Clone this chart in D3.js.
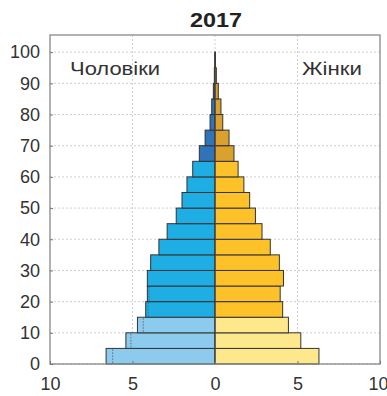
<!DOCTYPE html>
<html>
<head>
<meta charset="utf-8">
<script src="https://cdn.jsdelivr.net/npm/d3@7"></script>
<style>
  body { margin: 0; background: #fff; }
  text { font-family: "Liberation Sans", Arial, sans-serif; }
</style>
</head>
<body>
<div id="chart"></div>
<script>
// age groups (lower bound of 5-year band)
const ageGroups = [0, 5, 10, 15, 20, 25, 30, 35, 40, 45, 50, 55, 60, 65, 70, 75, 80, 85, 90, 95]
// share of population, %
const male   = [6.6, 5.4, 4.7, 4.2, 4.1, 4.1, 3.9, 3.4, 2.9, 2.35, 2.0, 1.7, 1.35, 0.95, 0.6, 0.3, 0.2, 0.1, 0.04, 0.01]
const female = [6.3, 5.2, 4.45, 4.1, 3.95, 4.15, 3.9, 3.35, 2.85, 2.45, 2.1, 1.75, 1.4, 1.15, 0.85, 0.47, 0.36, 0.2, 0.08, 0.03]
// faint dotted outline from an earlier year (male side)
const maleRef = [6.2, 5.1, 4.35, 4.05, 4.0, null, null, null, null, null, null, null, null, null, null, null, null, null, null, null]
const yTicks = [0, 10, 20, 30, 40, 50, 60, 70, 80, 90, 100]
const xTicks = [-10, -5, 0, 5, 10]

const colors = {
  male:   { young: "#8ccbee", work: "#1eaee4", old: "#2f73b9" },
  female: { young: "#fde98c", work: "#fdc22a", old: "#daa12c" }
}
const ageClass = a => a < 15 ? "young" : (a < 65 ? "work" : "old")

const width = 387, height = 396
const margin = { top: 35, right: 7, bottom: 32, left: 50 }

const svg = d3.select("#chart").append("svg")
    .attr("width", width)
    .attr("height", height)

const x = d3.scaleLinear().domain([-10, 10]).range([margin.left, width - margin.right])
const y = d3.scaleLinear().domain([0, 105.5]).range([height - margin.bottom, margin.top])

// grid
const grid = svg.append("g")
grid.selectAll(".gy")
  .data(yTicks)
  .join("line")
    .attr("x1", margin.left).attr("x2", width - margin.right)
    .attr("y1", d => y(d)).attr("y2", d => y(d))
    .attr("stroke", "#cfcfcf").attr("stroke-dasharray", "2,2")
grid.selectAll(".gx")
  .data(xTicks.filter(d => d > -10 && d < 10))
  .join("line")
    .attr("x1", d => x(d)).attr("x2", d => x(d))
    .attr("y1", margin.top).attr("y2", height - margin.bottom)
    .attr("stroke", "#cfcfcf").attr("stroke-dasharray", "2,2")

const bandH = y(0) - y(5)

// bars
const rows = ageGroups.map((a, i) => ({ age: a, m: male[i], f: female[i], ref: maleRef[i] }))

const bars = svg.append("g")
bars.selectAll(".m")
  .data(rows)
  .join("rect")
    .attr("x", d => x(-d.m))
    .attr("y", d => y(d.age + 5))
    .attr("width", d => x(0) - x(-d.m))
    .attr("height", bandH)
    .attr("fill", d => colors.male[ageClass(d.age)])
    .attr("stroke", "#333").attr("stroke-width", 1)
bars.selectAll(".f")
  .data(rows)
  .join("rect")
    .attr("x", x(0))
    .attr("y", d => y(d.age + 5))
    .attr("width", d => x(d.f) - x(0))
    .attr("height", bandH)
    .attr("fill", d => colors.female[ageClass(d.age)])
    .attr("stroke", "#333").attr("stroke-width", 1)

bars.selectAll(".ref")
  .data(rows.filter(d => d.ref != null))
  .join("line")
    .attr("x1", d => x(-d.ref)).attr("x2", d => x(-d.ref))
    .attr("y1", d => y(d.age + 5) + 1).attr("y2", d => y(d.age) - 1)
    .attr("stroke", "#555").attr("stroke-width", 0.8).attr("stroke-dasharray", "1.5,1.5")

// centre line
svg.append("line")
    .attr("x1", x(0)).attr("x2", x(0))
    .attr("y1", y(100)).attr("y2", y(0))
    .attr("stroke", "#444").attr("stroke-width", 1)

// frame
svg.append("rect")
    .attr("x", margin.left).attr("y", margin.top)
    .attr("width", width - margin.left - margin.right)
    .attr("height", height - margin.top - margin.bottom)
    .attr("fill", "none").attr("stroke", "#888").attr("stroke-width", 1.3)

// axes
const yAxis = svg.append("g")
    .attr("transform", `translate(${margin.left},0)`)
    .call(d3.axisLeft(y).tickValues(yTicks).tickSize(-3).tickPadding(10))
const xAxis = svg.append("g")
    .attr("transform", `translate(0,${height - margin.bottom})`)
    .call(d3.axisBottom(x).tickValues(xTicks).tickSize(-3).tickPadding(13).tickFormat(d => Math.abs(d)))
;[yAxis, xAxis].forEach(g => {
  g.select(".domain").remove()
  g.selectAll(".tick line").attr("stroke", "#777")
  g.selectAll("text").attr("font-size", 18).attr("fill", "#333")
})
xAxis.selectAll(".tick text").filter(d => d === 10).attr("text-anchor", "end").attr("dx", 8)

// labels
svg.append("text")
    .attr("x", x(0) + 1).attr("y", 27)
    .attr("text-anchor", "middle")
    .attr("font-size", 21).attr("font-weight", "bold").attr("fill", "#222")
    .attr("textLength", 52).attr("lengthAdjust", "spacingAndGlyphs")
    .text("2017")
svg.append("text")
    .attr("x", 70).attr("y", 75)
    .attr("font-size", 19).attr("fill", "#333")
    .attr("textLength", 90).attr("lengthAdjust", "spacingAndGlyphs")
    .text("Чоловіки")
svg.append("text")
    .attr("x", 302).attr("y", 75)
    .attr("font-size", 19).attr("fill", "#333")
    .attr("textLength", 60).attr("lengthAdjust", "spacingAndGlyphs")
    .text("Жінки")
</script>
</body>
</html>
